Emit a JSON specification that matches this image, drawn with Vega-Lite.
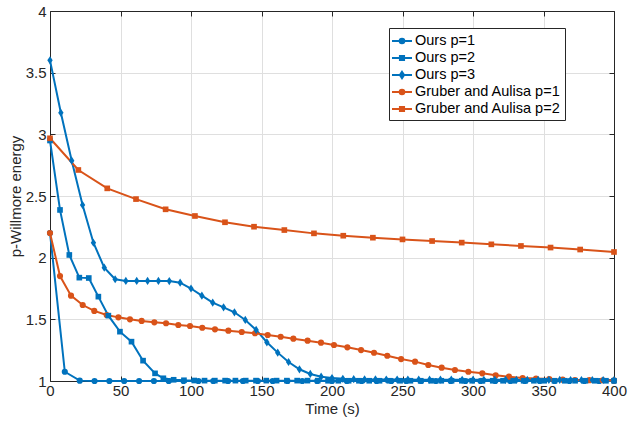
{
  "$schema": "https://vega.github.io/schema/vega-lite/v6.json",
  "width": 564,
  "height": 370,
  "autosize": {"type": "none"},
  "padding": {"left": 50, "top": 11, "right": 14, "bottom": 44},
  "background": "white",
  "config": {
    "font": "Liberation Sans",
    "view": {"stroke": null},
    "axis": {
      "domainColor": "#262626",
      "domainWidth": 1,
      "tickColor": "#262626",
      "labelColor": "#262626",
      "titleColor": "#262626",
      "labelFont": "Liberation Sans",
      "titleFont": "Liberation Sans",
      "labelFontSize": 15,
      "titleFontSize": 15,
      "titleFontWeight": "normal",
      "gridColor": "#dfdfdf",
      "gridWidth": 1,
      "tickSize": -5,
      "zindex": 0
    },
    "legend": {
      "orient": "none",
      "legendX": 339,
      "legendY": 17,
      "padding": 4,
      "strokeColor": "#262626",
      "fillColor": "white",
      "labelFont": "Liberation Sans",
      "labelFontSize": 14.5,
      "labelColor": "#000000",
      "symbolSize": 256,
      "labelOffset": 4,
      "rowPadding": 1,
      "symbolStrokeWidth": 1.8
    }
  },
  "data": {"values": [
    {"series": "Ours p=1", "time": 0, "energy": 2.2},
    {"series": "Ours p=1", "time": 10.5, "energy": 1.075},
    {"series": "Ours p=1", "time": 21.1, "energy": 1.003},
    {"series": "Ours p=1", "time": 31.6, "energy": 1.0},
    {"series": "Ours p=1", "time": 42.1, "energy": 1.0},
    {"series": "Ours p=1", "time": 52.6, "energy": 1.0},
    {"series": "Ours p=1", "time": 63.2, "energy": 1.0},
    {"series": "Ours p=1", "time": 73.7, "energy": 1.0},
    {"series": "Ours p=1", "time": 84.2, "energy": 1.0},
    {"series": "Ours p=1", "time": 94.7, "energy": 1.0},
    {"series": "Ours p=1", "time": 105.3, "energy": 1.0},
    {"series": "Ours p=1", "time": 115.8, "energy": 1.0},
    {"series": "Ours p=1", "time": 126.3, "energy": 1.0},
    {"series": "Ours p=1", "time": 136.8, "energy": 1.0},
    {"series": "Ours p=1", "time": 147.4, "energy": 1.0},
    {"series": "Ours p=1", "time": 157.9, "energy": 1.0},
    {"series": "Ours p=1", "time": 168.4, "energy": 1.0},
    {"series": "Ours p=1", "time": 178.9, "energy": 1.0},
    {"series": "Ours p=1", "time": 189.5, "energy": 1.0},
    {"series": "Ours p=1", "time": 200, "energy": 1.0},
    {"series": "Ours p=1", "time": 210.5, "energy": 1.0},
    {"series": "Ours p=1", "time": 221.1, "energy": 1.0},
    {"series": "Ours p=1", "time": 231.6, "energy": 1.0},
    {"series": "Ours p=1", "time": 242.1, "energy": 1.0},
    {"series": "Ours p=1", "time": 252.6, "energy": 1.0},
    {"series": "Ours p=1", "time": 263.2, "energy": 1.0},
    {"series": "Ours p=1", "time": 273.7, "energy": 1.0},
    {"series": "Ours p=1", "time": 284.2, "energy": 1.0},
    {"series": "Ours p=1", "time": 294.7, "energy": 1.0},
    {"series": "Ours p=1", "time": 305.3, "energy": 1.0},
    {"series": "Ours p=1", "time": 315.8, "energy": 1.0},
    {"series": "Ours p=1", "time": 326.3, "energy": 1.0},
    {"series": "Ours p=1", "time": 336.8, "energy": 1.0},
    {"series": "Ours p=1", "time": 347.4, "energy": 1.0},
    {"series": "Ours p=1", "time": 357.9, "energy": 1.0},
    {"series": "Ours p=1", "time": 368.4, "energy": 1.0},
    {"series": "Ours p=1", "time": 378.9, "energy": 1.0},
    {"series": "Ours p=1", "time": 389.5, "energy": 1.0},
    {"series": "Ours p=1", "time": 400, "energy": 1.0},

    {"series": "Ours p=2", "time": 0, "energy": 2.95},
    {"series": "Ours p=2", "time": 7.1, "energy": 2.387},
    {"series": "Ours p=2", "time": 13.7, "energy": 2.022},
    {"series": "Ours p=2", "time": 20.8, "energy": 1.838},
    {"series": "Ours p=2", "time": 27.5, "energy": 1.835},
    {"series": "Ours p=2", "time": 34.3, "energy": 1.684},
    {"series": "Ours p=2", "time": 41.4, "energy": 1.53},
    {"series": "Ours p=2", "time": 49.6, "energy": 1.4},
    {"series": "Ours p=2", "time": 57.8, "energy": 1.319},
    {"series": "Ours p=2", "time": 66.0, "energy": 1.165},
    {"series": "Ours p=2", "time": 74.5, "energy": 1.062},
    {"series": "Ours p=2", "time": 80.4, "energy": 1.022},
    {"series": "Ours p=2", "time": 87.7, "energy": 1.01},
    {"series": "Ours p=2", "time": 95.0, "energy": 1.006},
    {"series": "Ours p=2", "time": 102.3, "energy": 1.004},
    {"series": "Ours p=2", "time": 109.6, "energy": 1.003},
    {"series": "Ours p=2", "time": 116.9, "energy": 1.003},
    {"series": "Ours p=2", "time": 124.2, "energy": 1.003},
    {"series": "Ours p=2", "time": 131.5, "energy": 1.003},
    {"series": "Ours p=2", "time": 138.8, "energy": 1.003},
    {"series": "Ours p=2", "time": 146.1, "energy": 1.003},
    {"series": "Ours p=2", "time": 153.4, "energy": 1.003},
    {"series": "Ours p=2", "time": 160.7, "energy": 1.003},
    {"series": "Ours p=2", "time": 168.0, "energy": 1.003},
    {"series": "Ours p=2", "time": 175.3, "energy": 1.003},
    {"series": "Ours p=2", "time": 182.6, "energy": 1.003},
    {"series": "Ours p=2", "time": 189.9, "energy": 1.003},
    {"series": "Ours p=2", "time": 197.2, "energy": 1.002},
    {"series": "Ours p=2", "time": 204.5, "energy": 1.002},
    {"series": "Ours p=2", "time": 211.8, "energy": 1.002},
    {"series": "Ours p=2", "time": 219.1, "energy": 1.002},
    {"series": "Ours p=2", "time": 226.4, "energy": 1.002},
    {"series": "Ours p=2", "time": 233.7, "energy": 1.002},
    {"series": "Ours p=2", "time": 241.0, "energy": 1.002},
    {"series": "Ours p=2", "time": 248.3, "energy": 1.002},
    {"series": "Ours p=2", "time": 255.6, "energy": 1.002},
    {"series": "Ours p=2", "time": 262.9, "energy": 1.002},
    {"series": "Ours p=2", "time": 270.2, "energy": 1.002},
    {"series": "Ours p=2", "time": 277.5, "energy": 1.002},
    {"series": "Ours p=2", "time": 284.8, "energy": 1.002},
    {"series": "Ours p=2", "time": 292.1, "energy": 1.002},
    {"series": "Ours p=2", "time": 299.4, "energy": 1.002},
    {"series": "Ours p=2", "time": 306.7, "energy": 1.002},
    {"series": "Ours p=2", "time": 314.0, "energy": 1.002},
    {"series": "Ours p=2", "time": 321.3, "energy": 1.002},
    {"series": "Ours p=2", "time": 328.6, "energy": 1.002},
    {"series": "Ours p=2", "time": 335.9, "energy": 1.002},
    {"series": "Ours p=2", "time": 343.2, "energy": 1.002},
    {"series": "Ours p=2", "time": 350.5, "energy": 1.002},
    {"series": "Ours p=2", "time": 357.8, "energy": 1.002},
    {"series": "Ours p=2", "time": 365.1, "energy": 1.002},
    {"series": "Ours p=2", "time": 372.4, "energy": 1.002},
    {"series": "Ours p=2", "time": 379.7, "energy": 1.002},
    {"series": "Ours p=2", "time": 387.0, "energy": 1.002},
    {"series": "Ours p=2", "time": 394.3, "energy": 1.002},
    {"series": "Ours p=2", "time": 400, "energy": 1.002},

    {"series": "Ours p=3", "time": 0, "energy": 3.6},
    {"series": "Ours p=3", "time": 7.7, "energy": 3.175},
    {"series": "Ours p=3", "time": 15.4, "energy": 2.786},
    {"series": "Ours p=3", "time": 23.1, "energy": 2.427},
    {"series": "Ours p=3", "time": 30.8, "energy": 2.121},
    {"series": "Ours p=3", "time": 38.5, "energy": 1.919},
    {"series": "Ours p=3", "time": 46.2, "energy": 1.825},
    {"series": "Ours p=3", "time": 53.8, "energy": 1.811},
    {"series": "Ours p=3", "time": 61.5, "energy": 1.811},
    {"series": "Ours p=3", "time": 69.2, "energy": 1.811},
    {"series": "Ours p=3", "time": 76.9, "energy": 1.811},
    {"series": "Ours p=3", "time": 84.6, "energy": 1.81},
    {"series": "Ours p=3", "time": 92.3, "energy": 1.797},
    {"series": "Ours p=3", "time": 100.0, "energy": 1.75},
    {"series": "Ours p=3", "time": 107.7, "energy": 1.692},
    {"series": "Ours p=3", "time": 115.4, "energy": 1.635},
    {"series": "Ours p=3", "time": 123.1, "energy": 1.597},
    {"series": "Ours p=3", "time": 130.8, "energy": 1.557},
    {"series": "Ours p=3", "time": 138.5, "energy": 1.495},
    {"series": "Ours p=3", "time": 146.2, "energy": 1.414},
    {"series": "Ours p=3", "time": 153.8, "energy": 1.314},
    {"series": "Ours p=3", "time": 161.5, "energy": 1.23},
    {"series": "Ours p=3", "time": 169.2, "energy": 1.154},
    {"series": "Ours p=3", "time": 176.9, "energy": 1.095},
    {"series": "Ours p=3", "time": 184.6, "energy": 1.057},
    {"series": "Ours p=3", "time": 192.3, "energy": 1.035},
    {"series": "Ours p=3", "time": 200.0, "energy": 1.024},
    {"series": "Ours p=3", "time": 207.7, "energy": 1.018},
    {"series": "Ours p=3", "time": 215.4, "energy": 1.015},
    {"series": "Ours p=3", "time": 223.1, "energy": 1.013},
    {"series": "Ours p=3", "time": 230.8, "energy": 1.013},
    {"series": "Ours p=3", "time": 238.5, "energy": 1.012},
    {"series": "Ours p=3", "time": 246.2, "energy": 1.012},
    {"series": "Ours p=3", "time": 253.8, "energy": 1.012},
    {"series": "Ours p=3", "time": 261.5, "energy": 1.011},
    {"series": "Ours p=3", "time": 269.2, "energy": 1.011},
    {"series": "Ours p=3", "time": 276.9, "energy": 1.011},
    {"series": "Ours p=3", "time": 284.6, "energy": 1.011},
    {"series": "Ours p=3", "time": 292.3, "energy": 1.01},
    {"series": "Ours p=3", "time": 300.0, "energy": 1.01},
    {"series": "Ours p=3", "time": 307.7, "energy": 1.01},
    {"series": "Ours p=3", "time": 315.4, "energy": 1.01},
    {"series": "Ours p=3", "time": 323.1, "energy": 1.01},
    {"series": "Ours p=3", "time": 330.8, "energy": 1.009},
    {"series": "Ours p=3", "time": 338.5, "energy": 1.009},
    {"series": "Ours p=3", "time": 346.2, "energy": 1.009},
    {"series": "Ours p=3", "time": 353.8, "energy": 1.009},
    {"series": "Ours p=3", "time": 361.5, "energy": 1.009},
    {"series": "Ours p=3", "time": 369.2, "energy": 1.008},
    {"series": "Ours p=3", "time": 376.9, "energy": 1.008},
    {"series": "Ours p=3", "time": 384.6, "energy": 1.008},
    {"series": "Ours p=3", "time": 392.3, "energy": 1.008},
    {"series": "Ours p=3", "time": 400.0, "energy": 1.008},

    {"series": "Gruber and Aulisa p=1", "time": 0, "energy": 2.2},
    {"series": "Gruber and Aulisa p=1", "time": 7.1, "energy": 1.851},
    {"series": "Gruber and Aulisa p=1", "time": 14.9, "energy": 1.692},
    {"series": "Gruber and Aulisa p=1", "time": 23.2, "energy": 1.616},
    {"series": "Gruber and Aulisa p=1", "time": 31.4, "energy": 1.568},
    {"series": "Gruber and Aulisa p=1", "time": 40.2, "energy": 1.535},
    {"series": "Gruber and Aulisa p=1", "time": 48.5, "energy": 1.516},
    {"series": "Gruber and Aulisa p=1", "time": 56.7, "energy": 1.5},
    {"series": "Gruber and Aulisa p=1", "time": 65.0, "energy": 1.487},
    {"series": "Gruber and Aulisa p=1", "time": 74.0, "energy": 1.476},
    {"series": "Gruber and Aulisa p=1", "time": 82.3, "energy": 1.468},
    {"series": "Gruber and Aulisa p=1", "time": 91.0, "energy": 1.454},
    {"series": "Gruber and Aulisa p=1", "time": 99.3, "energy": 1.446},
    {"series": "Gruber and Aulisa p=1", "time": 108.0, "energy": 1.432},
    {"series": "Gruber and Aulisa p=1", "time": 117.0, "energy": 1.419},
    {"series": "Gruber and Aulisa p=1", "time": 126.5, "energy": 1.408},
    {"series": "Gruber and Aulisa p=1", "time": 136.0, "energy": 1.397},
    {"series": "Gruber and Aulisa p=1", "time": 145.4, "energy": 1.387},
    {"series": "Gruber and Aulisa p=1", "time": 154.4, "energy": 1.373},
    {"series": "Gruber and Aulisa p=1", "time": 163.6, "energy": 1.359},
    {"series": "Gruber and Aulisa p=1", "time": 172.6, "energy": 1.343},
    {"series": "Gruber and Aulisa p=1", "time": 182.7, "energy": 1.327},
    {"series": "Gruber and Aulisa p=1", "time": 192.2, "energy": 1.311},
    {"series": "Gruber and Aulisa p=1", "time": 201.4, "energy": 1.292},
    {"series": "Gruber and Aulisa p=1", "time": 210.9, "energy": 1.273},
    {"series": "Gruber and Aulisa p=1", "time": 220.6, "energy": 1.251},
    {"series": "Gruber and Aulisa p=1", "time": 229.8, "energy": 1.229},
    {"series": "Gruber and Aulisa p=1", "time": 239.2, "energy": 1.205},
    {"series": "Gruber and Aulisa p=1", "time": 249.0, "energy": 1.178},
    {"series": "Gruber and Aulisa p=1", "time": 258.9, "energy": 1.157},
    {"series": "Gruber and Aulisa p=1", "time": 268.3, "energy": 1.13},
    {"series": "Gruber and Aulisa p=1", "time": 277.8, "energy": 1.108},
    {"series": "Gruber and Aulisa p=1", "time": 287.2, "energy": 1.089},
    {"series": "Gruber and Aulisa p=1", "time": 296.7, "energy": 1.075},
    {"series": "Gruber and Aulisa p=1", "time": 306.6, "energy": 1.062},
    {"series": "Gruber and Aulisa p=1", "time": 316.1, "energy": 1.046},
    {"series": "Gruber and Aulisa p=1", "time": 325.5, "energy": 1.035},
    {"series": "Gruber and Aulisa p=1", "time": 335.2, "energy": 1.024},
    {"series": "Gruber and Aulisa p=1", "time": 344.7, "energy": 1.02},
    {"series": "Gruber and Aulisa p=1", "time": 354.1, "energy": 1.016},
    {"series": "Gruber and Aulisa p=1", "time": 363.6, "energy": 1.011},
    {"series": "Gruber and Aulisa p=1", "time": 372.3, "energy": 1.008},
    {"series": "Gruber and Aulisa p=1", "time": 382.5, "energy": 1.007},
    {"series": "Gruber and Aulisa p=1", "time": 392.0, "energy": 1.006},
    {"series": "Gruber and Aulisa p=1", "time": 400.0, "energy": 1.005},

    {"series": "Gruber and Aulisa p=2", "time": 0, "energy": 2.968},
    {"series": "Gruber and Aulisa p=2", "time": 20.1, "energy": 2.711},
    {"series": "Gruber and Aulisa p=2", "time": 40.6, "energy": 2.562},
    {"series": "Gruber and Aulisa p=2", "time": 61.0, "energy": 2.475},
    {"series": "Gruber and Aulisa p=2", "time": 82.0, "energy": 2.392},
    {"series": "Gruber and Aulisa p=2", "time": 102.8, "energy": 2.338},
    {"series": "Gruber and Aulisa p=2", "time": 124.1, "energy": 2.287},
    {"series": "Gruber and Aulisa p=2", "time": 144.7, "energy": 2.251},
    {"series": "Gruber and Aulisa p=2", "time": 166.2, "energy": 2.224},
    {"series": "Gruber and Aulisa p=2", "time": 187.2, "energy": 2.197},
    {"series": "Gruber and Aulisa p=2", "time": 208.0, "energy": 2.178},
    {"series": "Gruber and Aulisa p=2", "time": 229.0, "energy": 2.162},
    {"series": "Gruber and Aulisa p=2", "time": 250.0, "energy": 2.148},
    {"series": "Gruber and Aulisa p=2", "time": 271.0, "energy": 2.135},
    {"series": "Gruber and Aulisa p=2", "time": 292.0, "energy": 2.122},
    {"series": "Gruber and Aulisa p=2", "time": 313.0, "energy": 2.108},
    {"series": "Gruber and Aulisa p=2", "time": 334.0, "energy": 2.095},
    {"series": "Gruber and Aulisa p=2", "time": 355.0, "energy": 2.082},
    {"series": "Gruber and Aulisa p=2", "time": 376.0, "energy": 2.066},
    {"series": "Gruber and Aulisa p=2", "time": 400.0, "energy": 2.046}
  ]},
  "layer": [
    {
      "mark": {"type": "line", "strokeWidth": 2, "clip": false},
      "encoding": {
        "x": {"field": "time", "type": "quantitative",
              "scale": {"domain": [0, 400], "nice": false, "zero": false},
              "axis": {"title": "Time (s)", "values": [0, 50, 100, 150, 200, 250, 300, 350, 400], "grid": true, "labelPadding": 7, "titlePadding": 3, "labelFlush": false}},
        "y": {"field": "energy", "type": "quantitative",
              "scale": {"domain": [1, 4], "nice": false, "zero": false},
              "axis": {"title": "p-Willmore energy", "values": [1, 1.5, 2, 2.5, 3, 3.5, 4], "format": "~g", "grid": true, "labelPadding": 9, "titlePadding": 2}},
        "color": {"field": "series", "type": "nominal",
                  "scale": {"domain": ["Ours p=1", "Ours p=2", "Ours p=3", "Gruber and Aulisa p=1", "Gruber and Aulisa p=2"],
                            "range": ["#0072BD", "#0072BD", "#0072BD", "#D95319", "#D95319"]},
                  "legend": {"title": null,
                    "encode": {"symbols": {"update": {
                      "shape": {"signal": "(datum.value == 'Ours p=1' || datum.value == 'Gruber and Aulisa p=1') ? 'M-1.25,0H1.25M-0.3,0A0.3,0.3,0,1,0,0.3,0A0.3,0.3,0,1,0,-0.3,0Z' : (datum.value == 'Ours p=3' ? 'M-1.25,0H1.25M0,-0.42L0.28,0L0,0.42L-0.28,0Z' : 'M-1.25,0H1.25M-0.27,-0.27H0.27V0.27H-0.27Z')"},
                      "fill": {"signal": "(indexof(datum.value, 'Ours') == 0) ? '#0072BD' : '#D95319'"},
                      "strokeWidth": {"value": 1.8}
                    }}}}},
        "detail": {"field": "series"}
      }
    },
    {
      "transform": [{"filter": "datum.series == 'Ours p=1' || datum.series == 'Gruber and Aulisa p=1'"}],
      "mark": {"type": "point", "filled": true, "opacity": 1, "size": 38, "shape": "circle"},
      "encoding": {
        "x": {"field": "time", "type": "quantitative", "axis": null},
        "y": {"field": "energy", "type": "quantitative", "axis": null},
        "color": {"field": "series", "type": "nominal", "legend": null}
      }
    },
    {
      "transform": [{"filter": "datum.series == 'Ours p=2' || datum.series == 'Gruber and Aulisa p=2'"}],
      "mark": {"type": "point", "filled": true, "opacity": 1, "size": 32, "shape": "square"},
      "encoding": {
        "x": {"field": "time", "type": "quantitative", "axis": null},
        "y": {"field": "energy", "type": "quantitative", "axis": null},
        "color": {"field": "series", "type": "nominal", "legend": null}
      }
    },
    {
      "transform": [{"filter": "datum.series == 'Ours p=3'"}],
      "mark": {"type": "point", "filled": true, "opacity": 1, "size": 40, "shape": "M0,-1.3L0.85,0L0,1.3L-0.85,0Z"},
      "encoding": {
        "x": {"field": "time", "type": "quantitative", "axis": null},
        "y": {"field": "energy", "type": "quantitative", "axis": null},
        "color": {"field": "series", "type": "nominal", "legend": null}
      }
    },
    {
      "mark": {"type": "point", "opacity": 0},
      "encoding": {
        "x": {"field": "time", "type": "quantitative",
              "axis": {"orient": "top", "title": null, "labels": false, "grid": false, "values": [0, 50, 100, 150, 200, 250, 300, 350, 400]}},
        "y": {"field": "energy", "type": "quantitative",
              "axis": {"orient": "right", "title": null, "labels": false, "grid": false, "values": [1, 1.5, 2, 2.5, 3, 3.5, 4]}}
      }
    }
  ],
  "resolve": {
    "axis": {"x": "independent", "y": "independent"}
  }
}
